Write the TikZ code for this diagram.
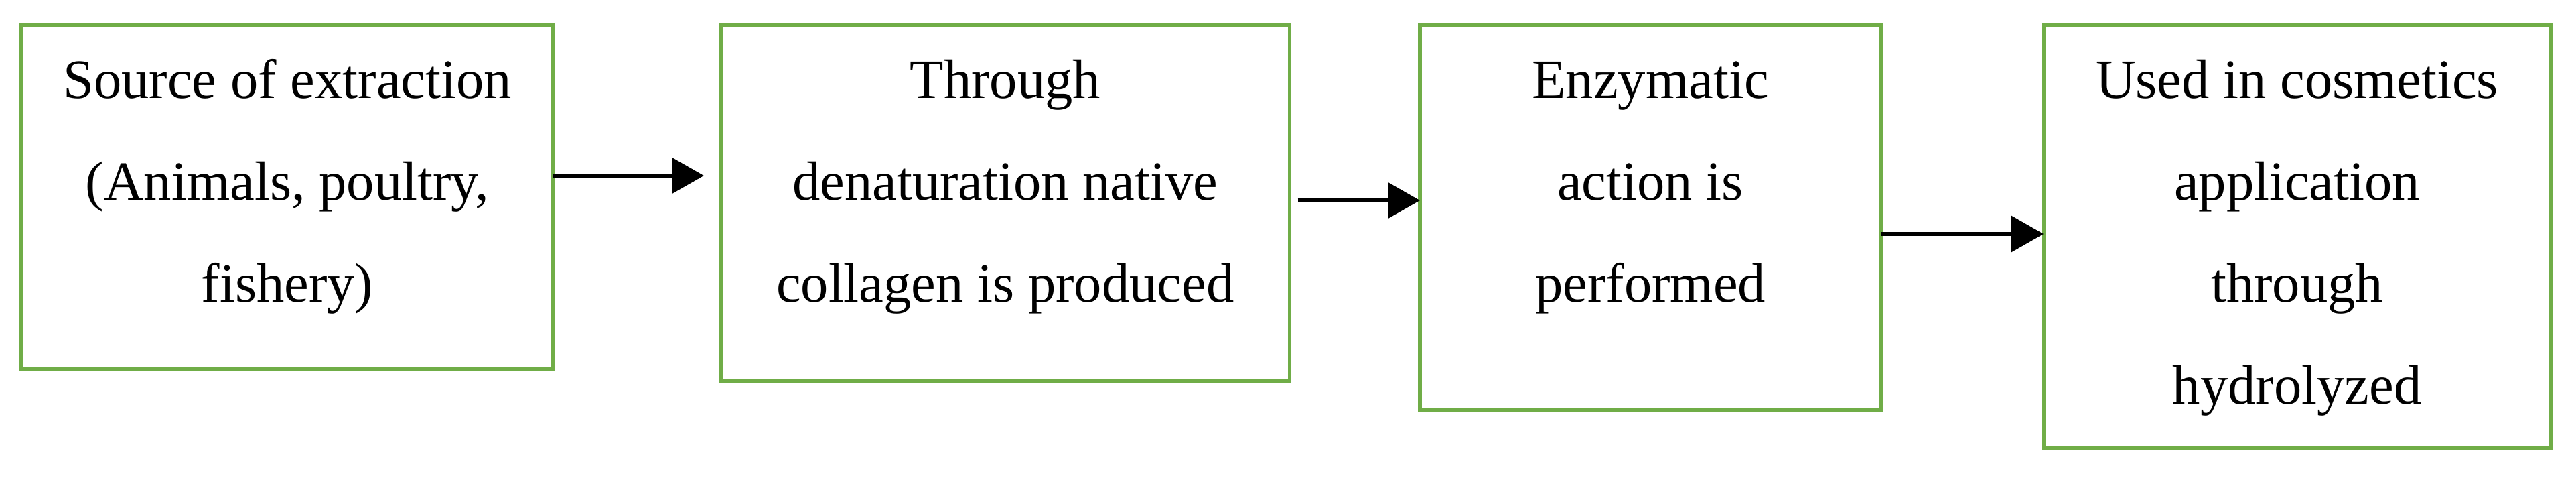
\documentclass[tikz,border=0pt]{standalone}
\usepackage{fontspec}
\setmainfont{Liberation Serif}
\usetikzlibrary{arrows.meta,calc}
\definecolor{boxgreen}{HTML}{70AD47}
\begin{document}
\begin{tikzpicture}[
  box/.style={draw=boxgreen, line width=0.055cm, rectangle, inner sep=0pt, outer sep=0pt, anchor=north west},
  txt/.style={anchor=north, inner sep=0pt, align=center, font=\fontsize{23.5}{43.2}\selectfont},
  arr/.style={draw=black, line width=0.06cm, -{Triangle[length=0.48cm, width=0.53cm]}}
]
\useasboundingbox (0,0) rectangle (38.46,-7.25);

\node[box, minimum width=7.94cm, minimum height=5.12cm] (b1) at (0.32,-0.38) {};
\node[box, minimum width=8.495cm, minimum height=5.31cm] (b2) at (10.76,-0.38) {};
\node[box, minimum width=6.88cm, minimum height=5.74cm] (b3) at (21.20,-0.38) {};
\node[box, minimum width=7.57cm, minimum height=6.30cm] (b4) at (30.51,-0.38) {};

\node[txt] (t1) at (b1.north |- 0,-0.397) {\strut Source of extraction\\(Animals, poultry,\\fishery)};
\node[txt] (t2) at (b2.north |- 0,-0.397) {\strut Through\\denaturation native\\collagen is produced};
\node[txt] (t3) at (b3.north |- 0,-0.397) {\strut Enzymatic\\action is\\performed};
\node[txt] (t4) at (b4.north |- 0,-0.397) {\strut Used in cosmetics\\application\\through\\hydrolyzed};

\coordinate (a1y) at (0,-2.62);
\coordinate (a2y) at (0,-2.99);
\coordinate (a3y) at (0,-3.49);

\draw[arr] (b1.east |- a1y) -- ($(b2.west |- a1y)+(-0.25,0)$);
\draw[arr] ($(b2.east |- a2y)+(0.12,0)$) -- (b3.west |- a2y);
\draw[arr] (b3.east |- a3y) -- (b4.west |- a3y);
\end{tikzpicture}
\end{document}
